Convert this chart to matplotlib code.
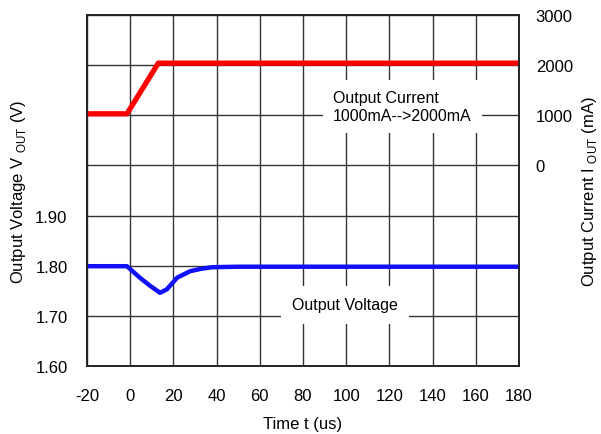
import matplotlib.pyplot as plt

plt.rcParams['font.family'] = ['Liberation Sans', 'DejaVu Sans']
plt.rcParams['mathtext.fontset'] = 'custom'
plt.rcParams['mathtext.rm'] = 'Liberation Sans'

# output current step (mA)
t_cur = [-20, -1.5, 13, 180]
i_cur = [1030, 1030, 2040, 2040]

# output voltage response (V)
t_volt = [-20, -1.5, 4.5, 9.2, 13.8, 17, 21.7, 27.7, 33, 38, 50, 180]
v_out = [1.799, 1.799, 1.776, 1.760, 1.746, 1.753, 1.776, 1.789, 1.794, 1.797, 1.798, 1.798]

x_ticks = list(range(-20, 181, 20))
v_ticks = [1.60, 1.70, 1.80, 1.90, 2.00, 2.10, 2.20, 2.30]
v_labels = ['1.60', '1.70', '1.80', '1.90', '', '', '', '']
i_ticks = [0, 1000, 2000, 3000]

fig = plt.figure(figsize=(6.01, 4.35), dpi=100)
ax = fig.add_axes([87 / 601, 68 / 435, 432 / 601, 351 / 435])
ax2 = ax.twinx()

ax.set_xlim(-20, 180)
ax.set_ylim(1.60, 2.30)
ax.set_xticks(x_ticks)
ax.set_xticklabels([str(x) for x in x_ticks])
ax.set_yticks(v_ticks)
ax.set_yticklabels(v_labels)
ax.grid(True, color='#333333', lw=1)
ax.tick_params(axis='both', length=0, labelsize=12)
ax.tick_params(axis='x', pad=16)
ax.tick_params(axis='y', pad=14)
for s in ax.spines.values():
    s.set_color('#222222')
    s.set_linewidth(1.2)

ax2.set_ylim(-4000, 3000)
ax2.set_yticks(i_ticks)
ax2.tick_params(axis='y', length=0, labelsize=12, pad=12)
for s in ax2.spines.values():
    s.set_color('#222222')
    s.set_linewidth(1.2)

ax.plot(t_volt, v_out, color='#1010ff', lw=3.2, solid_capstyle='butt')
ax2.plot(t_cur, i_cur, color='#ff0000', lw=3.8, solid_capstyle='butt')

ax.set_xlabel('Time t (us)', fontsize=12, labelpad=9)
ax.set_ylabel(r'Output Voltage V $_{\mathrm{OUT}}$ (V)', fontsize=12, labelpad=5)
ax2.set_ylabel(r'Output Current I $_{\mathrm{OUT}}$ (mA)', fontsize=12, labelpad=5)

ax2.text(94, 1175, 'Output Current\n1000mA-->2000mA', fontsize=11.5,
         va='center', ha='left', multialignment='left', linespacing=1.25,
         bbox=dict(facecolor='white', edgecolor='none', pad=7))
ax.text(75, 1.722, 'Output Voltage', fontsize=11.5, va='center', ha='left',
        bbox=dict(facecolor='white', edgecolor='none', pad=8))

fig.savefig('out.png', dpi=100)
